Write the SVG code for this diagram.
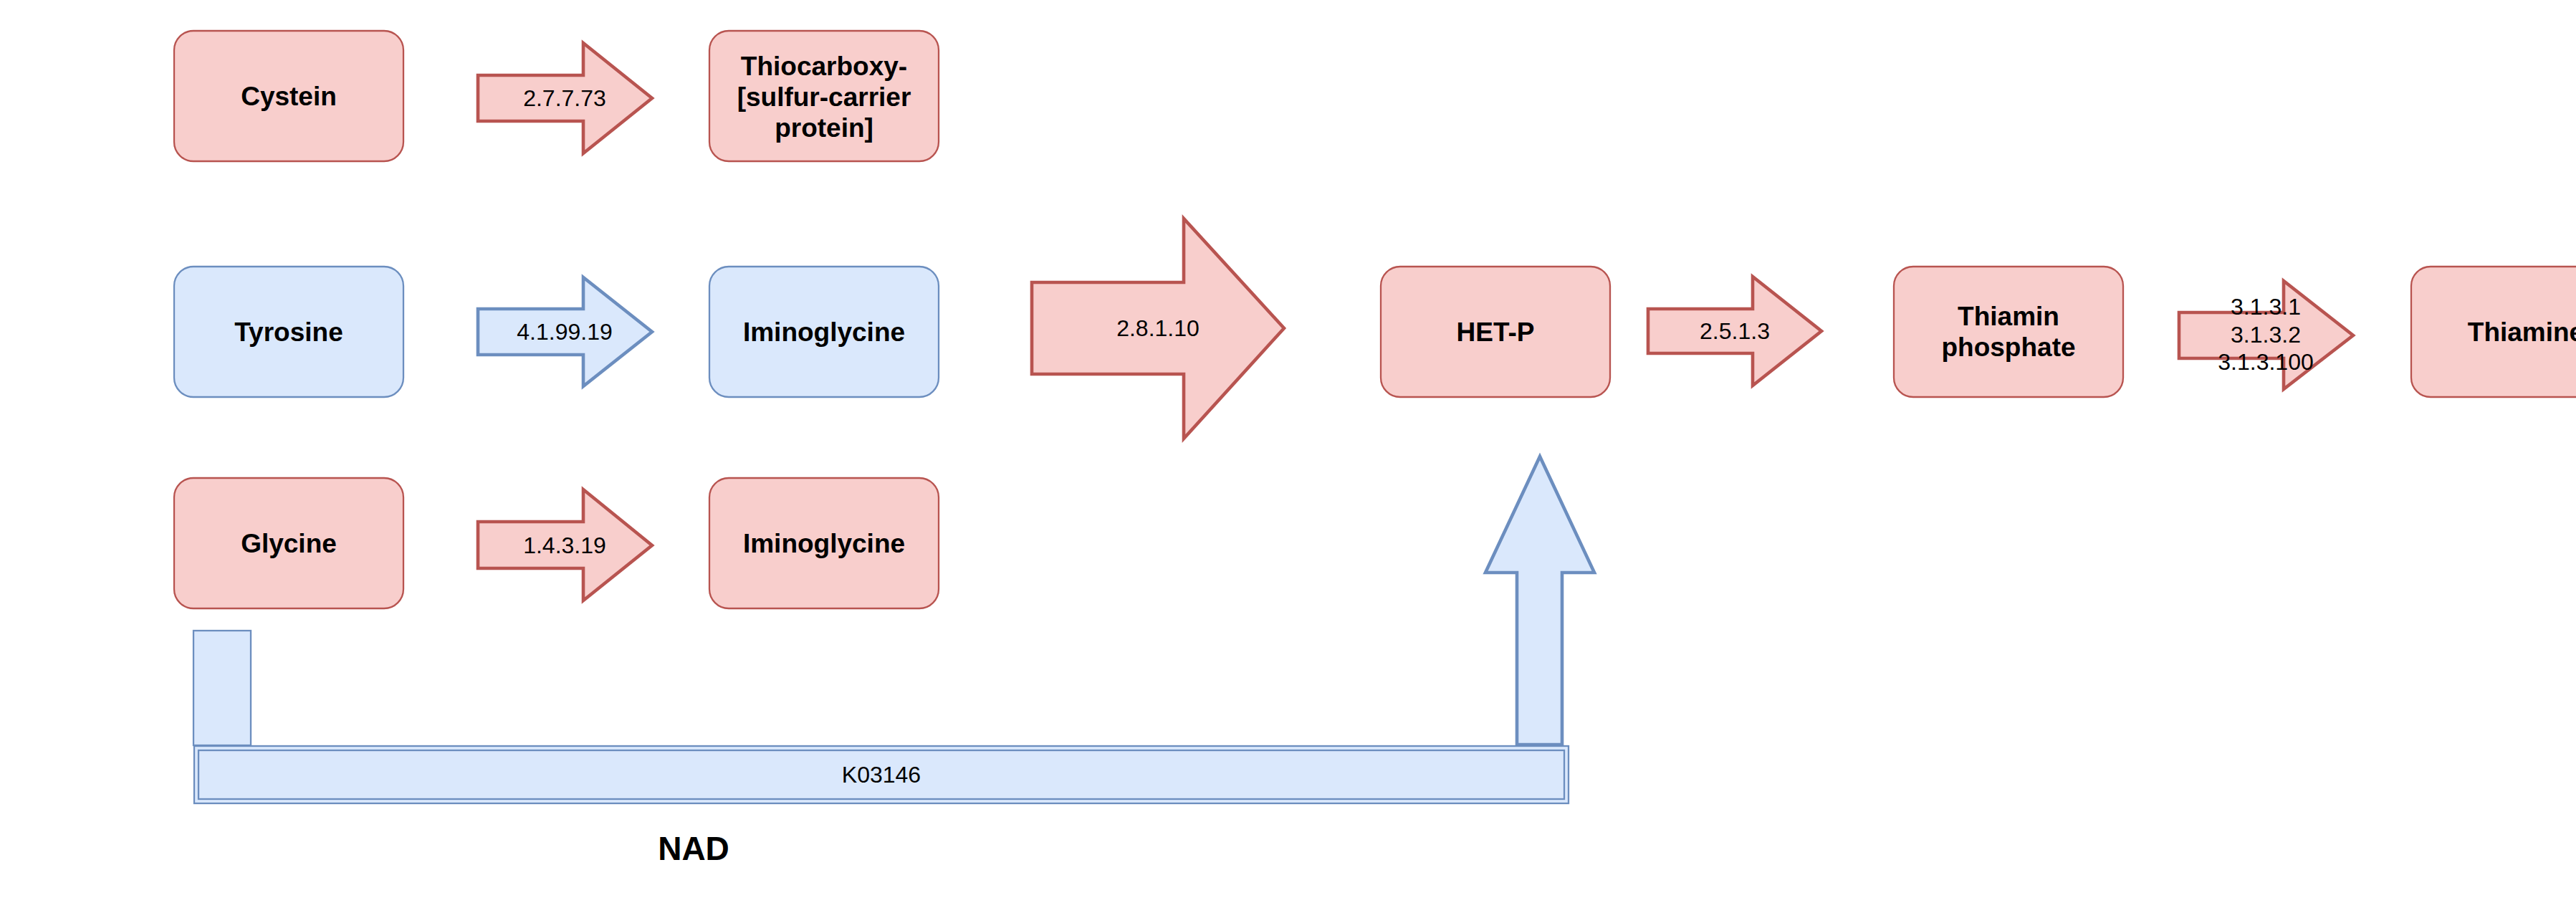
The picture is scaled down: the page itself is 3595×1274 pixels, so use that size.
<svg xmlns="http://www.w3.org/2000/svg" width="3595" height="1274" viewBox="0 0 3595 1274">
<style>
.red{fill:#f8cecc;stroke:#b85450;stroke-width:2.3}
.blue{fill:#dae8fc;stroke:#6c8ebf;stroke-width:2.3}
.ra{fill:#f8cecc;stroke:#b85450;stroke-width:4.6;stroke-linejoin:miter}
.ba{fill:#dae8fc;stroke:#6c8ebf;stroke-width:4.6;stroke-linejoin:miter}
.lbl{font-family:"Liberation Sans",Arial,sans-serif;font-size:37px;font-weight:bold;fill:#000;text-anchor:middle}
.al{font-family:"Liberation Sans",Arial,sans-serif;font-size:32px;fill:#000;text-anchor:middle}
</style>
<rect width="3595" height="1274" fill="#fff"/>
<g id="connectors">
  <g id="e-2.7.7.73">
    <polygon class="ra" points="667,105 814,105 814,60 910,137 814,214 814,169 667,169"/>
    <text class="al" x="788" y="148">2.7.7.73</text>
  </g>
  <g id="e-4.1.99.19">
    <polygon class="ba" points="667,431 814,431 814,387 910,463 814,539 814,495 667,495"/>
    <text class="al" x="788" y="474">4.1.99.19</text>
  </g>
  <g id="e-1.4.3.19">
    <polygon class="ra" points="667,728 814,728 814,683 910,761 814,838 814,793 667,793"/>
    <text class="al" x="788" y="772">1.4.3.19</text>
  </g>
  <g id="e-2.8.1.10">
    <polygon class="ra" points="1440,394 1652,394 1652,305 1792,458 1652,612 1652,522 1440,522"/>
    <text class="al" x="1616" y="469">2.8.1.10</text>
  </g>
  <g id="e-2.5.1.3">
    <polygon class="ra" points="2300,431 2446,431 2446,386 2542,462 2446,538 2446,493 2300,493"/>
    <text class="al" x="2421" y="473">2.5.1.3</text>
  </g>
  <g id="e-3.1.3">
    <polygon class="ra" points="3041,436 3187,436 3187,392 3284,468 3187,543 3187,500 3041,500"/>
    <text class="al" x="3162" y="439">3.1.3.1</text>
    <text class="al" x="3162" y="478">3.1.3.2</text>
    <text class="al" x="3162" y="516">3.1.3.100</text>
  </g>
  <g id="e-nad-up">
    <polygon class="ba" points="2117,1039 2117,799 2073,799 2149,637 2225,799 2180,799 2180,1039"/>
  </g>
</g>
<g id="n-cystein">
  <rect class="red" x="243" y="43" width="320" height="182" rx="27"/>
  <text class="lbl" x="403" y="147">Cystein</text>
</g>
<g id="n-thiocarboxy">
  <rect class="red" x="990" y="43" width="320" height="182" rx="27"/>
  <text class="lbl" x="1150" y="105">Thiocarboxy-</text>
  <text class="lbl" x="1150" y="148">[sulfur-carrier</text>
  <text class="lbl" x="1150" y="191">protein]</text>
</g>
<g id="n-tyrosine">
  <rect class="blue" x="243" y="372" width="320" height="182" rx="27"/>
  <text class="lbl" x="403" y="476">Tyrosine</text>
</g>
<g id="n-iminoglycine1">
  <rect class="blue" x="990" y="372" width="320" height="182" rx="27"/>
  <text class="lbl" x="1150" y="476">Iminoglycine</text>
</g>
<g id="n-glycine">
  <rect class="red" x="243" y="667" width="320" height="182" rx="27"/>
  <text class="lbl" x="403" y="771">Glycine</text>
</g>
<g id="n-iminoglycine2">
  <rect class="red" x="990" y="667" width="320" height="182" rx="27"/>
  <text class="lbl" x="1150" y="771">Iminoglycine</text>
</g>
<g id="n-hetp">
  <rect class="red" x="1927" y="372" width="320" height="182" rx="27"/>
  <text class="lbl" x="2087" y="476">HET-P</text>
</g>
<g id="n-thiaminphosphate">
  <rect class="red" x="2643" y="372" width="320" height="182" rx="27"/>
  <text class="lbl" x="2803" y="454">Thiamin</text>
  <text class="lbl" x="2803" y="497">phosphate</text>
</g>
<g id="n-thiamine">
  <rect class="red" x="3365" y="372" width="320" height="182" rx="27"/>
  <text class="lbl" x="3525" y="476">Thiamine</text>
</g>
<g id="n-stub">
  <rect class="blue" x="270" y="880" width="80" height="160"/>
</g>
<g id="n-k03146">
  <rect class="blue" x="271" y="1041" width="1918" height="80"/>
  <rect class="blue" x="277" y="1047" width="1906" height="68"/>
  <text class="al" x="1230" y="1092">K03146</text>
</g>
<g id="n-nad">
  <text class="lbl" x="968" y="1200" style="font-size:46px">NAD</text>
</g>
</svg>
